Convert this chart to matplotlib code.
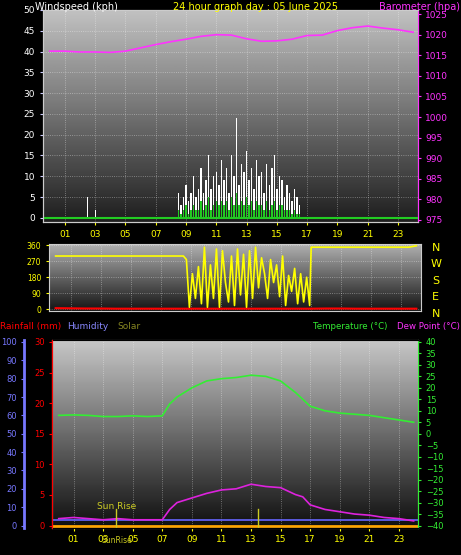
import numpy as np
import matplotlib.pyplot as plt

# --- data ------------------------------------------------------------
baro_hours = [0, 1, 2, 3, 4, 5, 6, 7, 8, 9, 10, 11, 12, 13, 14, 15, 16, 17, 18, 19, 20, 21, 22, 23, 24]
baro_hpa = [1016.0, 1016.0, 1015.8, 1015.8, 1015.7, 1016.0, 1016.8, 1017.6, 1018.3, 1018.9, 1019.6, 1020.0,
            1019.9, 1019.0, 1018.4, 1018.5, 1018.9, 1019.8, 1019.9, 1021.0, 1021.7, 1022.1, 1021.6, 1021.2, 1020.6]

gust_start = 8.5
gust_step = 1 / 6
gust_kph = [6, 3, 5, 8, 4, 6, 10, 5, 7, 12, 6, 9, 15, 7, 10, 11, 8, 14, 9, 12,
            6, 15, 10, 24, 8, 13, 11, 16, 9, 12, 7, 14, 10, 11, 6, 13, 8, 12, 15, 7,
            10, 9, 5, 8, 6, 4, 7, 5, 3]
avg_kph = [2, 1, 2, 3, 1, 2, 3, 2, 2, 4, 2, 3, 5, 2, 3, 4, 3, 4, 3, 4,
           2, 5, 3, 6, 3, 4, 3, 5, 3, 4, 2, 4, 3, 3, 2, 4, 2, 3, 4, 2,
           3, 3, 2, 2, 2, 1, 2, 1, 1]
early_gust_hours = [2.5, 3.0]
early_gust_kph = [5, 2]

dir_hours = [0, 8.5, 8.7, 8.9, 9.1, 9.3, 9.5, 9.7, 9.9, 10.1, 10.3, 10.5, 10.7, 10.9, 11.1, 11.3,
             11.5, 11.7, 11.9, 12.1, 12.3, 12.5, 12.7, 12.9, 13.1, 13.3, 13.5, 13.7, 13.9, 14.1,
             14.3, 14.5, 14.7, 14.9, 15.1, 15.3, 15.5, 15.7, 15.9, 16.1, 16.3, 16.5, 16.7, 16.9,
             17.0, 23.5, 24]
dir_deg = [300, 300, 280, 10, 200, 60, 240, 30, 350, 10, 250, 60, 340, 10, 330, 150, 40, 300,
           20, 340, 80, 310, 10, 330, 60, 350, 120, 290, 200, 60, 280, 150, 250, 70, 300, 20,
           190, 100, 230, 30, 200, 40, 180, 20, 350, 350, 358]
speed_red = [5, 4, 3, 3, 2, 2, 2, 2, 2, 2, 2, 2, 2, 2, 2, 2, 2, 2, 3, 3, 2, 2, 2, 2, 2]

temp_hours = [0, 1, 2, 3, 4, 5, 6, 7, 7.5, 8, 9, 10, 11, 12, 13, 14, 15, 16, 16.5, 17, 18, 19, 20, 21, 22, 23, 24]
temp_c = [8, 8.2, 8, 7.5, 7.5, 7.8, 7.5, 7.8, 13, 16, 20, 23, 24, 24.5, 25.5, 25, 23, 18, 15, 12,
          10, 9, 8.5, 8, 7, 6, 5]
dew_c = [-37, -36.5, -37, -37.5, -37, -37.5, -37.5, -37.5, -33, -30, -28, -26, -24.5, -24, -22,
         -23, -23.5, -26.5, -27.5, -31, -33, -34, -35, -35.5, -36.5, -37, -38]
humidity = 3
sun_lines = [3.9, 13.5]

hour_ticks = list(range(1, 24, 2))
hour_labels = ['%02d' % h for h in hour_ticks]

# --- figure ----------------------------------------------------------
fig = plt.figure(figsize=(4.61, 5.55), dpi=100, facecolor='black')
plt.rcParams['font.family'] = ['DejaVu Sans']
fs = 6.5


def backdrop(ax, top, bottom):
    grad = np.linspace(top, bottom, 100).reshape(-1, 1)
    ax.imshow(grad, cmap='gray', vmin=0, vmax=1, aspect='auto',
              extent=[-0.45, 24.3, 0, 1], transform=ax.get_xaxis_transform(), zorder=0)
    ax.set_xlim(-0.45, 24.3)
    ax.grid(color='white', linestyle=':', linewidth=0.6, alpha=0.45)
    for s in ax.spines.values():
        s.set_color('#cccccc')
    ax.set_facecolor('black')


# top panel: wind + barometer
ax1 = fig.add_axes([0.093, 0.6, 0.813, 0.382])
backdrop(ax1, 0.76, 0.12)
ax1.set_ylim(-1, 50)
ax1.set_yticks(range(0, 51, 5))
ax1.set_xticks(hour_ticks)
ax1.set_xticklabels(hour_labels)
ax1.tick_params(axis='x', colors='yellow', labelsize=fs, length=2)
ax1.tick_params(axis='y', colors='#ccccff', labelsize=fs, length=2)
for lab in ax1.get_yticklabels():
    lab.set_color('white')
gx = gust_start + np.arange(len(gust_kph)) * gust_step
ax1.bar(gx, gust_kph, width=gust_step * 0.6, color='white', zorder=2)
ax1.bar(gx, avg_kph, width=gust_step * 0.6, color='#22cc22', zorder=3)
ax1.bar(early_gust_hours, early_gust_kph, width=0.08, color='white', zorder=2)
ax1.axhline(0, color='#22cc22', linewidth=1.5, zorder=3)
ax1b = ax1.twinx()
ax1b.set_ylim(974.5, 1026)
ax1b.set_yticks(range(975, 1026, 5))
ax1b.tick_params(axis='y', colors='#ff33ff', labelsize=fs, length=2)
ax1b.plot(baro_hours, baro_hpa, color='#ff33ff', linewidth=1.2)
for s in ax1b.spines.values():
    s.set_color('#cccccc')
ax1b.spines['right'].set_color('#ff33ff')

# middle panel: wind direction
ax2 = fig.add_axes([0.106, 0.44, 0.807, 0.121])
backdrop(ax2, 0.7, 0.08)
ax2.set_ylim(-10, 370)
ax2.set_yticks(range(0, 361, 90))
ax2.set_xticks(hour_ticks)
ax2.set_xticklabels([])
ax2.tick_params(axis='y', colors='yellow', labelsize=fs - 1, length=2)
ax2.tick_params(axis='x', length=0)
ax2.plot(dir_hours, dir_deg, color='yellow', linewidth=1.2, zorder=3)
ax2.plot(np.arange(len(speed_red)), speed_red, color='red', linewidth=1.5, zorder=2)
for i, t in enumerate(['N', 'W', 'S', 'E', 'N']):
    fig.text(0.945, 0.553 - i * 0.0295, t, color='yellow', fontsize=8, ha='center', va='center')

# bottom panel: temperature etc.
ax3 = fig.add_axes([0.113, 0.049, 0.794, 0.339])
backdrop(ax3, 0.78, 0.06)
ax3.set_ylim(-41, 41)
ax3.set_yticks([])
ax3.set_xticks(hour_ticks)
ax3.set_xticklabels(hour_labels)
ax3.tick_params(axis='x', colors='yellow', labelsize=fs, length=2)
ax3.plot(temp_hours, temp_c, color='#33ee33', linewidth=1.2, zorder=3)
ax3.plot(temp_hours, dew_c, color='#dd22dd', linewidth=1.2, zorder=3)
ax3.axhline(-40 + humidity * 0.8, color='#6666ff', linewidth=1.2, zorder=2)
ax3.axhline(-40, color='orange', linewidth=2, zorder=2)
for h in sun_lines:
    ax3.plot([h, h], [-41, -33], color='#cccc22', linewidth=1, zorder=4)
ax3.text(2.6, -33, 'Sun Rise', color='#cccc22', fontsize=fs, zorder=5)
ax3.text(3.9, -44.5, 'SunRise', color='#cccc22', fontsize=fs - 1, ha='center', va='top')

ax3t = ax3.twinx()
ax3t.set_ylim(-41, 41)
ax3t.set_yticks(range(-40, 41, 5))
ax3t.tick_params(axis='y', colors='#33ee33', labelsize=fs - 0.5, length=2)
ax3t.spines['right'].set_color('#33ee33')
ax3t.spines['left'].set_color('red')

ax3r = ax3.twinx()
ax3r.yaxis.set_ticks_position('left')
ax3r.spines['left'].set_position(('outward', 0))
ax3r.set_ylim(-30 / 80, 30 + 30 / 80)
ax3r.set_yticks([0, 5, 10, 15, 20, 25, 30])
ax3r.tick_params(axis='y', colors='red', labelsize=fs - 0.5, length=2)
ax3r.spines['left'].set_color('red')
for s in ['top', 'right', 'bottom']:
    ax3r.spines[s].set_visible(False)

ax3h = ax3.twinx()
ax3h.yaxis.set_ticks_position('left')
ax3h.spines['left'].set_position(('outward', 20))
ax3h.set_ylim(-100 / 80, 100 + 100 / 80)
ax3h.set_yticks(range(0, 101, 10))
ax3h.tick_params(axis='y', colors='#7777ff', labelsize=fs - 0.5, length=2)
ax3h.spines['left'].set_color('#7777ff')
ax3h.spines['left'].set_linewidth(2)
for s in ['top', 'right', 'bottom']:
    ax3h.spines[s].set_visible(False)

# titles
fig.text(0.075, 0.997, 'Windspeed (kph)', color='white', fontsize=7, va='top')
fig.text(0.375, 0.997, '24 hour graph day : 05 June 2025', color='yellow', fontsize=7, va='top')
fig.text(0.998, 0.997, 'Barometer (hpa)', color='#ff33ff', fontsize=7, va='top', ha='right')
fig.text(0.0, 0.411, 'Rainfall (mm)', color='red', fontsize=6.5, va='center')
fig.text(0.145, 0.411, 'Humidity', color='#8888ff', fontsize=6.5, va='center')
fig.text(0.255, 0.411, 'Solar', color='#888822', fontsize=6.5, va='center')
fig.text(0.678, 0.411, 'Temperature (°C)', color='#33ee33', fontsize=6.2, va='center')
fig.text(0.998, 0.411, 'Dew Point (°C)', color='#ff33ff', fontsize=6.2, va='center', ha='right')

fig.savefig('out.png', dpi=100, facecolor='black')
